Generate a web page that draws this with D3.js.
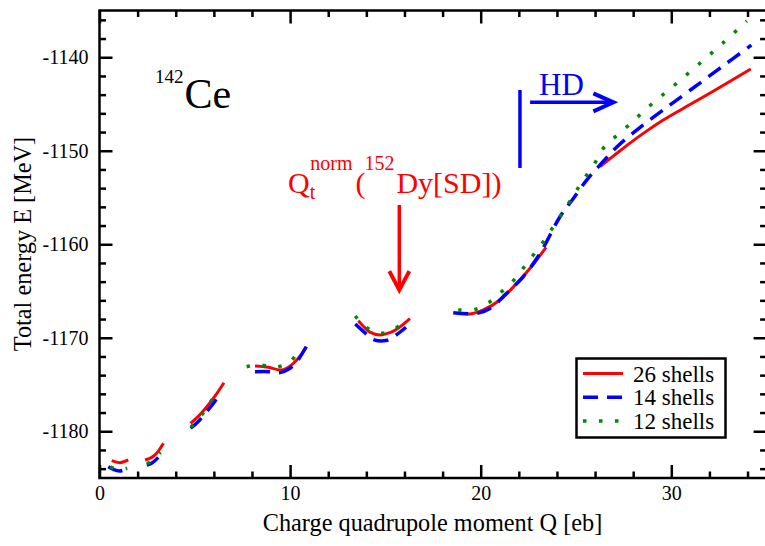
<!DOCTYPE html>
<html><head><meta charset="utf-8">
<script src="https://cdn.jsdelivr.net/npm/d3@7"></script>
<style>body{margin:0;background:#fff} svg{display:block}</style>
</head><body><svg id="c" width="765" height="546"></svg>
<script>
// ---------- data ----------
const xMajorTicks = [0, 10, 20, 30];
const yMajorTicks = [-1180, -1170, -1160, -1150, -1140];
const seriesLabels = ["26 shells", "14 shells", "12 shells"];

// 26 shells (segments of [Q, E])
const red26 = [
  [[0.64,-1183.15],[1.08,-1183.36],[1.51,-1183.07]],
  [[2.39,-1183.07],[2.74,-1182.79],[3.0,-1182.36],[3.35,-1181.29]],
  [[4.78,-1179.15],[5.17,-1178.44],[5.52,-1177.65],[6.04,-1176.3],[6.53,-1174.81]],
  [[8.16,-1173.02],[8.86,-1173.16],[9.47,-1173.45],[9.82,-1173.27],[10.35,-1172.38],[10.87,-1170.96]],
  [[13.58,-1168.18],[13.84,-1168.77],[14.19,-1169.4],[14.72,-1169.7],[15.24,-1169.45],[15.59,-1169.1],[16.29,-1167.96]],
  [[18.8,-1167.32],[19.44,-1167.46],[20.14,-1167.03],[21.01,-1165.96],[21.89,-1164.18],[22.59,-1162.57],[23.43,-1160.33]],
  [[26.26,-1151.68],[27.0,-1150.5],[27.83,-1149.18],[28.7,-1147.9],[29.58,-1146.72],[30.6,-1145.5],[31.86,-1144.03],[34.17,-1141.26]]
];
// 14 shells
const blue14 = [
  [[0.46,-1183.8],[0.75,-1184.1],[1.05,-1184.25],[1.2,-1184.2]],
  [[2.48,-1183.61],[2.75,-1183.4],[3.08,-1182.79]],
  [[4.78,-1179.68],[5.17,-1178.98],[5.69,-1177.73],[6.04,-1176.84],[6.39,-1175.77]],
  [[8.16,-1173.63],[8.94,-1173.63],[9.47,-1173.73],[9.91,-1173.37],[10.35,-1172.56],[10.84,-1170.96]],
  [[13.42,-1168.53],[13.95,-1169.52],[14.33,-1170.16],[15.03,-1170.3],[15.5,-1169.8],[16.08,-1168.88]],
  [[18.56,-1167.32],[19.79,-1167.39],[20.49,-1166.86],[21.36,-1165.25],[22.23,-1163.48],[23.11,-1160.98],[24.16,-1157.06],[24.86,-1155.1],[25.56,-1153.14],[26.26,-1151.53],[27.14,-1149.6],[28.3,-1147.6],[29.6,-1145.6],[31.04,-1143.45],[32.6,-1141.1],[34.2,-1138.7]]
];
// 12 shells
const green12 = [
  [[0.57,-1183.8],[1.0,-1184.15],[1.45,-1183.95]],
  [[2.5,-1183.5],[2.85,-1182.95],[3.2,-1182.25]],
  [[4.8,-1179.55],[5.36,-1178.26],[5.83,-1176.84],[6.32,-1175.51]],
  [[7.72,-1173.1],[8.38,-1172.91],[9.21,-1173.16],[9.99,-1172.56],[10.52,-1171.23]],
  [[13.42,-1167.67],[13.99,-1168.88],[14.72,-1169.52],[15.5,-1169.03],[16.15,-1167.89]],
  [[18.82,-1167.03],[19.7,-1166.96],[20.45,-1166.21],[21.1,-1165.07],[21.71,-1163.9],[22.23,-1162.57],[22.76,-1161.15],[23.25,-1159.83],[23.72,-1158.4],[24.2,-1156.95],[24.65,-1155.51],[25.07,-1154.12],[25.56,-1152.59],[26.0,-1151.28],[26.43,-1149.74],[27.66,-1147.46],[28.9,-1145.14],[30.19,-1142.94],[31.47,-1140.69],[32.73,-1138.44],[33.96,-1136.12]]
];

// annotation anchors in data units
const sdArrow = {q: 15.73, eFrom: -1155.8, eTo: -1164.9};
const hdBar = {q: 22.06, eFrom: -1143.5, eTo: -1151.84};
const hdArrow = {e: -1144.82, qFrom: 22.59, qTo: 26.96};

// ---------- layout ----------
const svg = d3.select("#c");
const FONT = "'Liberation Serif', 'Times New Roman', serif";
const x = d3.scaleLinear().domain([0, 35]).range([99.5, 766.6]);
const y = d3.scaleLinear().domain([-1185, -1135]).range([478, 10.5]);

const series = [
  {name: seriesLabels[0], data: red26, color: "#ff0000", width: 3, dash: null},
  {name: seriesLabels[1], data: blue14, color: "#0000ff", width: 3.5, dash: "15,9"},
  {name: seriesLabels[2], data: green12, color: "#008a00", width: 3.5, dash: "3.5,12.5"}
];

const line = d3.line().x(d => x(d[0])).y(d => y(d[1])).curve(d3.curveCatmullRom.alpha(0.5));

const plot = svg.append("g");
series.forEach(s => {
  plot.selectAll(null).data(s.data).enter().append("path")
    .attr("d", line)
    .attr("fill", "none")
    .attr("stroke", s.color)
    .attr("stroke-width", s.width)
    .attr("stroke-dasharray", s.dash)
    .attr("stroke-linecap", "butt");
});

// ---------- axes ----------
const minorX = d3.range(0, 35.01, 2).filter(v => v % 10 !== 0);
const minorY = d3.range(-1184, -1135, 2).filter(v => v % 10 !== 0);
function styleAxis(g) {
  g.select(".domain").remove();
  g.selectAll("line").attr("stroke", "#000").attr("stroke-width", 2.5);
  g.selectAll("text").attr("font-family", FONT).attr("font-size", 20).attr("fill", "#000");
}
const tf = d => (d < 0 ? "-" : "") + Math.abs(d);
// bottom
svg.append("g").attr("transform", `translate(0,${y.range()[0]})`)
  .call(d3.axisBottom(x).tickValues(xMajorTicks).tickSize(-13).tickPadding(8).tickFormat(tf)).call(styleAxis);
svg.append("g").attr("transform", `translate(0,${y.range()[0]})`)
  .call(d3.axisBottom(x).tickValues(minorX).tickSize(-6.5).tickFormat("")).call(styleAxis);
// top
svg.append("g").attr("transform", `translate(0,${y.range()[1]})`)
  .call(d3.axisTop(x).tickValues(xMajorTicks).tickSize(-13).tickFormat("")).call(styleAxis);
svg.append("g").attr("transform", `translate(0,${y.range()[1]})`)
  .call(d3.axisTop(x).tickValues(minorX).tickSize(-6.5).tickFormat("")).call(styleAxis);
// left
svg.append("g").attr("transform", `translate(${x.range()[0]},0)`)
  .call(d3.axisLeft(y).tickValues(yMajorTicks).tickSize(-13).tickPadding(11).tickFormat(tf)).call(styleAxis);
svg.append("g").attr("transform", `translate(${x.range()[0]},0)`)
  .call(d3.axisLeft(y).tickValues(minorY).tickSize(-6.5).tickFormat("")).call(styleAxis);
// right
svg.append("g").attr("transform", `translate(${x.range()[1]},0)`)
  .call(d3.axisRight(y).tickValues(yMajorTicks).tickSize(-13).tickFormat("")).call(styleAxis);
svg.append("g").attr("transform", `translate(${x.range()[1]},0)`)
  .call(d3.axisRight(y).tickValues(minorY).tickSize(-6.5).tickFormat("")).call(styleAxis);
// frame
svg.append("rect").attr("x", x.range()[0]).attr("y", y.range()[1])
  .attr("width", x.range()[1] - x.range()[0]).attr("height", y.range()[0] - y.range()[1])
  .attr("fill", "none").attr("stroke", "#000").attr("stroke-width", 2.5);

// axis titles
svg.append("text").attr("x", 432.5).attr("y", 531).attr("text-anchor", "middle")
  .attr("font-family", FONT).attr("font-size", 24.3).text("Charge quadrupole moment Q [eb]");
svg.append("text").attr("transform", "translate(31,244) rotate(-90)").attr("text-anchor", "middle")
  .attr("font-family", FONT).attr("font-size", 24.3).text("Total energy E [MeV]");

// nucleus label
const nuc = svg.append("text").attr("x", 155).attr("y", 108).attr("font-family", FONT);
nuc.append("tspan").attr("font-size", 19).attr("dy", -25).text("142");
nuc.append("tspan").attr("font-size", 42).attr("dx", 1).attr("dy", 25).text("Ce");

// SD annotation
const sd = svg.append("text").attr("x", 288).attr("y", 193).attr("font-family", FONT).attr("fill", "#ff0000").attr("font-size", 30);
sd.append("tspan").text("Q");
sd.append("tspan").attr("font-size", 20).attr("dy", 6).text("t");
sd.append("tspan").attr("font-size", 20).attr("dx", -5).attr("dy", -29).text("norm");
sd.append("tspan").attr("dx", 3).attr("dy", 23).text("(");
sd.append("tspan").attr("font-size", 20).attr("dx", -1).attr("dy", -23).text("152");
sd.append("tspan").attr("dx", 2).attr("dy", 23).text("Dy[SD])");

const ax = x(sdArrow.q);
svg.append("line").attr("x1", ax).attr("x2", ax).attr("y1", y(sdArrow.eFrom)).attr("y2", y(sdArrow.eTo) - 2)
  .attr("stroke", "#ff0000").attr("stroke-width", 3.5);
svg.append("path").attr("d", `M${ax-10},${y(sdArrow.eTo)-19} L${ax},${y(sdArrow.eTo)} L${ax+10},${y(sdArrow.eTo)-19}`)
  .attr("fill", "none").attr("stroke", "#ff0000").attr("stroke-width", 4);

// HD annotation
svg.append("line").attr("x1", x(hdBar.q)).attr("x2", x(hdBar.q)).attr("y1", y(hdBar.eFrom)).attr("y2", y(hdBar.eTo))
  .attr("stroke", "#0000ff").attr("stroke-width", 3.5);
const hy = y(hdArrow.e), hx2 = x(hdArrow.qTo);
svg.append("line").attr("x1", x(hdArrow.qFrom)).attr("x2", hx2 - 2).attr("y1", hy).attr("y2", hy)
  .attr("stroke", "#0000ff").attr("stroke-width", 3.5);
svg.append("path").attr("d", `M${hx2-20},${hy-9} L${hx2},${hy} L${hx2-20},${hy+9}`)
  .attr("fill", "none").attr("stroke", "#0000ff").attr("stroke-width", 4);
svg.append("text").attr("x", 539).attr("y", 94.5).attr("font-family", FONT).attr("font-size", 31)
  .attr("fill", "#0000ff").text("HD");

// legend
const lg = svg.append("g");
lg.append("rect").attr("x", 576.5).attr("y", 358.5).attr("width", 149).attr("height", 79)
  .attr("fill", "#fff").attr("stroke", "#000").attr("stroke-width", 2.5);
series.forEach((s, i) => {
  const ly = 373.5 + i * 23.7;
  lg.append("line").attr("x1", 583).attr("x2", 623).attr("y1", ly).attr("y2", ly)
    .attr("stroke", s.color).attr("stroke-width", s.width).attr("stroke-dasharray", s.dash);
  lg.append("text").attr("x", 633).attr("y", ly + 8).attr("font-family", FONT).attr("font-size", 23)
    .text(s.name);
});
</script>
</body></html>
